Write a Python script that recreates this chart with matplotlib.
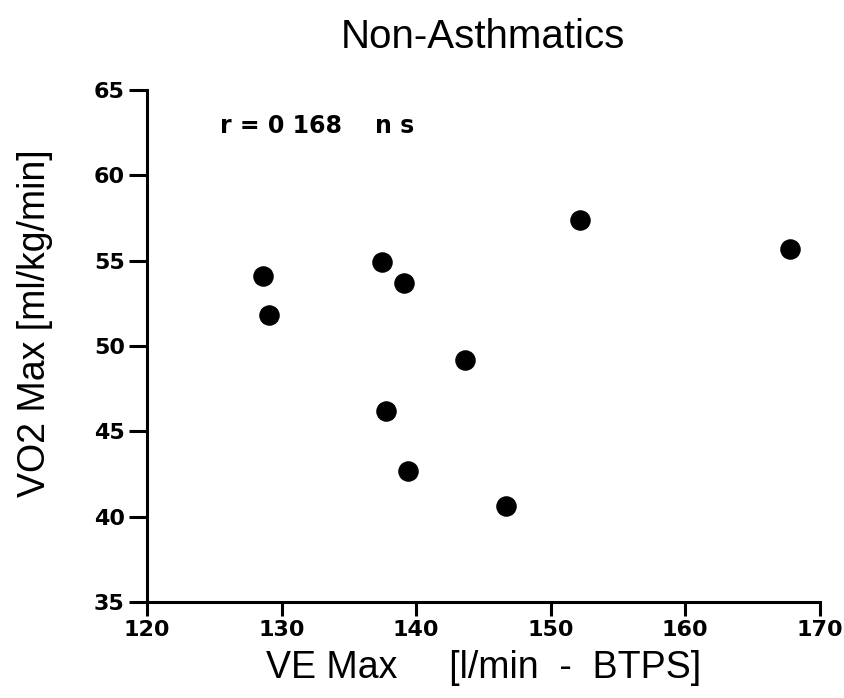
import matplotlib as mpl
mpl.use('Agg')
import matplotlib.pyplot as plt

# VE max vs VO2 max, non-asthmatic group
ve_max = [128.6, 129.1, 137.5, 139.1, 137.8, 139.4, 143.6, 146.7, 152.2, 167.8]
vo2_max = [54.1, 51.8, 54.9, 53.7, 46.2, 42.7, 49.2, 40.6, 57.4, 55.7]
xticks = [120, 130, 140, 150, 160, 170]
yticks = [35, 40, 45, 50, 55, 60, 65]

plt.rcParams['font.family'] = ['Liberation Sans', 'DejaVu Sans']

fig = plt.figure(figsize=(8.45, 6.98), dpi=100)
ax = fig.add_axes([0.174, 0.1375, 0.796, 0.7335])

ax.scatter(ve_max, vo2_max, s=190, color='black', zorder=3)

ax.set_xlim(120, 170)
ax.set_ylim(35, 65)
ax.set_xticks(xticks)
ax.set_yticks(yticks)
tickfont = dict(family='DejaVu Sans', fontsize=16, fontweight='bold')
ax.set_xticklabels([str(t) for t in xticks], **tickfont)
ax.set_yticklabels([str(t) for t in yticks], **tickfont)

for s in ['top', 'right']:
    ax.spines[s].set_visible(False)
for s in ['left', 'bottom']:
    ax.spines[s].set_linewidth(2.2)
ax.tick_params(axis='x', direction='out', length=10, width=2.2, pad=3)
ax.tick_params(axis='y', direction='out', length=13, width=2.2, pad=3)

ax.set_xlabel('VE Max     [l/min  -  BTPS]', fontsize=27, labelpad=7)
ax.set_ylabel('VO2 Max [ml/kg/min]', fontsize=27)
ax.yaxis.set_label_coords(-0.14, 0.545)
ax.set_title('Non-Asthmatics', fontsize=29, pad=30)

ax.text(125.4, 62.9, 'r = 0 168    n s', family='DejaVu Sans', fontsize=17,
        fontweight='bold', va='center')

fig.savefig('out.png', dpi=100)
